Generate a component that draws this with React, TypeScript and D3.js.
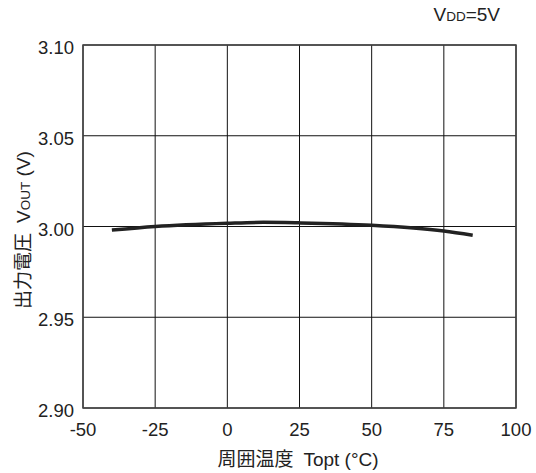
import React from "react";
import * as d3 from "d3";

// Ambient temperature (°C) and output voltage (V)
const temps = [-40, -25, 0, 12.5, 25, 50, 75, 85];
const vout = [2.998, 3.0, 3.0018, 3.0023, 3.002, 3.0007, 2.9975, 2.9952];

const xTicks = [-50, -25, 0, 25, 50, 75, 100];
const yTicks = [2.9, 2.95, 3.0, 3.05, 3.1];

const W = 536;
const H = 473;
const left = 83;
const right = 516;
const top = 45;
const bottom = 408;
const font = "'Liberation Sans', Arial, sans-serif";
const cjk = "'Noto Sans CJK JP', sans-serif";

export default function App() {
  const x = d3.scaleLinear().domain([-50, 100]).range([left, right]);
  const y = d3.scaleLinear().domain([2.9, 3.1]).range([bottom, top]);
  const line = d3
    .line<number>()
    .x((_, i) => x(temps[i]))
    .y((d) => y(d))
    .curve(d3.curveMonotoneX);

  return (
    <svg
      width={W}
      height={H}
      style={{ position: "absolute", left: 0, top: 0, background: "#fff" }}
      fontFamily={font}
    >
      {/* grid */}
      {xTicks.map((t) => (
        <line key={"gx" + t} x1={x(t)} x2={x(t)} y1={top} y2={bottom} stroke="#111" strokeWidth={1} />
      ))}
      {yTicks.map((t) => (
        <line key={"gy" + t} x1={left} x2={right} y1={y(t)} y2={y(t)} stroke="#111" strokeWidth={1} />
      ))}
      <rect x={left} y={top} width={right - left} height={bottom - top} fill="none" stroke="#444" strokeWidth={1.5} />

      {/* curve */}
      <path d={line(vout) ?? ""} fill="none" stroke="#222" strokeWidth={3.5} />

      {/* tick labels */}
      {yTicks.map((t) => (
        <text key={"ly" + t} x={74} y={y(t) + 9} textAnchor="end" fontSize={18.5} fill="#222">
          {t.toFixed(2)}
        </text>
      ))}
      {xTicks.map((t) => (
        <text key={"lx" + t} x={x(t)} y={436} textAnchor="middle" fontSize={18.5} fill="#222">
          {t}
        </text>
      ))}

      {/* axis titles */}
      <text x={298} y={466} textAnchor="middle" fontSize={19} fill="#222">
        <tspan fontFamily={cjk}>周囲温度</tspan>
        <tspan dx={10}>Topt (°C)</tspan>
      </text>
      <text transform="translate(30,230) rotate(-90)" textAnchor="middle" fontSize={19} fill="#222">
        <tspan fontFamily={cjk}>出力電圧</tspan>
        <tspan dx={10}>V</tspan>
        <tspan fontSize={13.5}>OUT</tspan>
        <tspan> (V)</tspan>
      </text>

      {/* condition */}
      <text x={500} y={21} textAnchor="end" fontSize={19} fill="#222">
        <tspan>V</tspan>
        <tspan fontSize={13.5}>DD</tspan>
        <tspan>=5V</tspan>
      </text>
    </svg>
  );
}
